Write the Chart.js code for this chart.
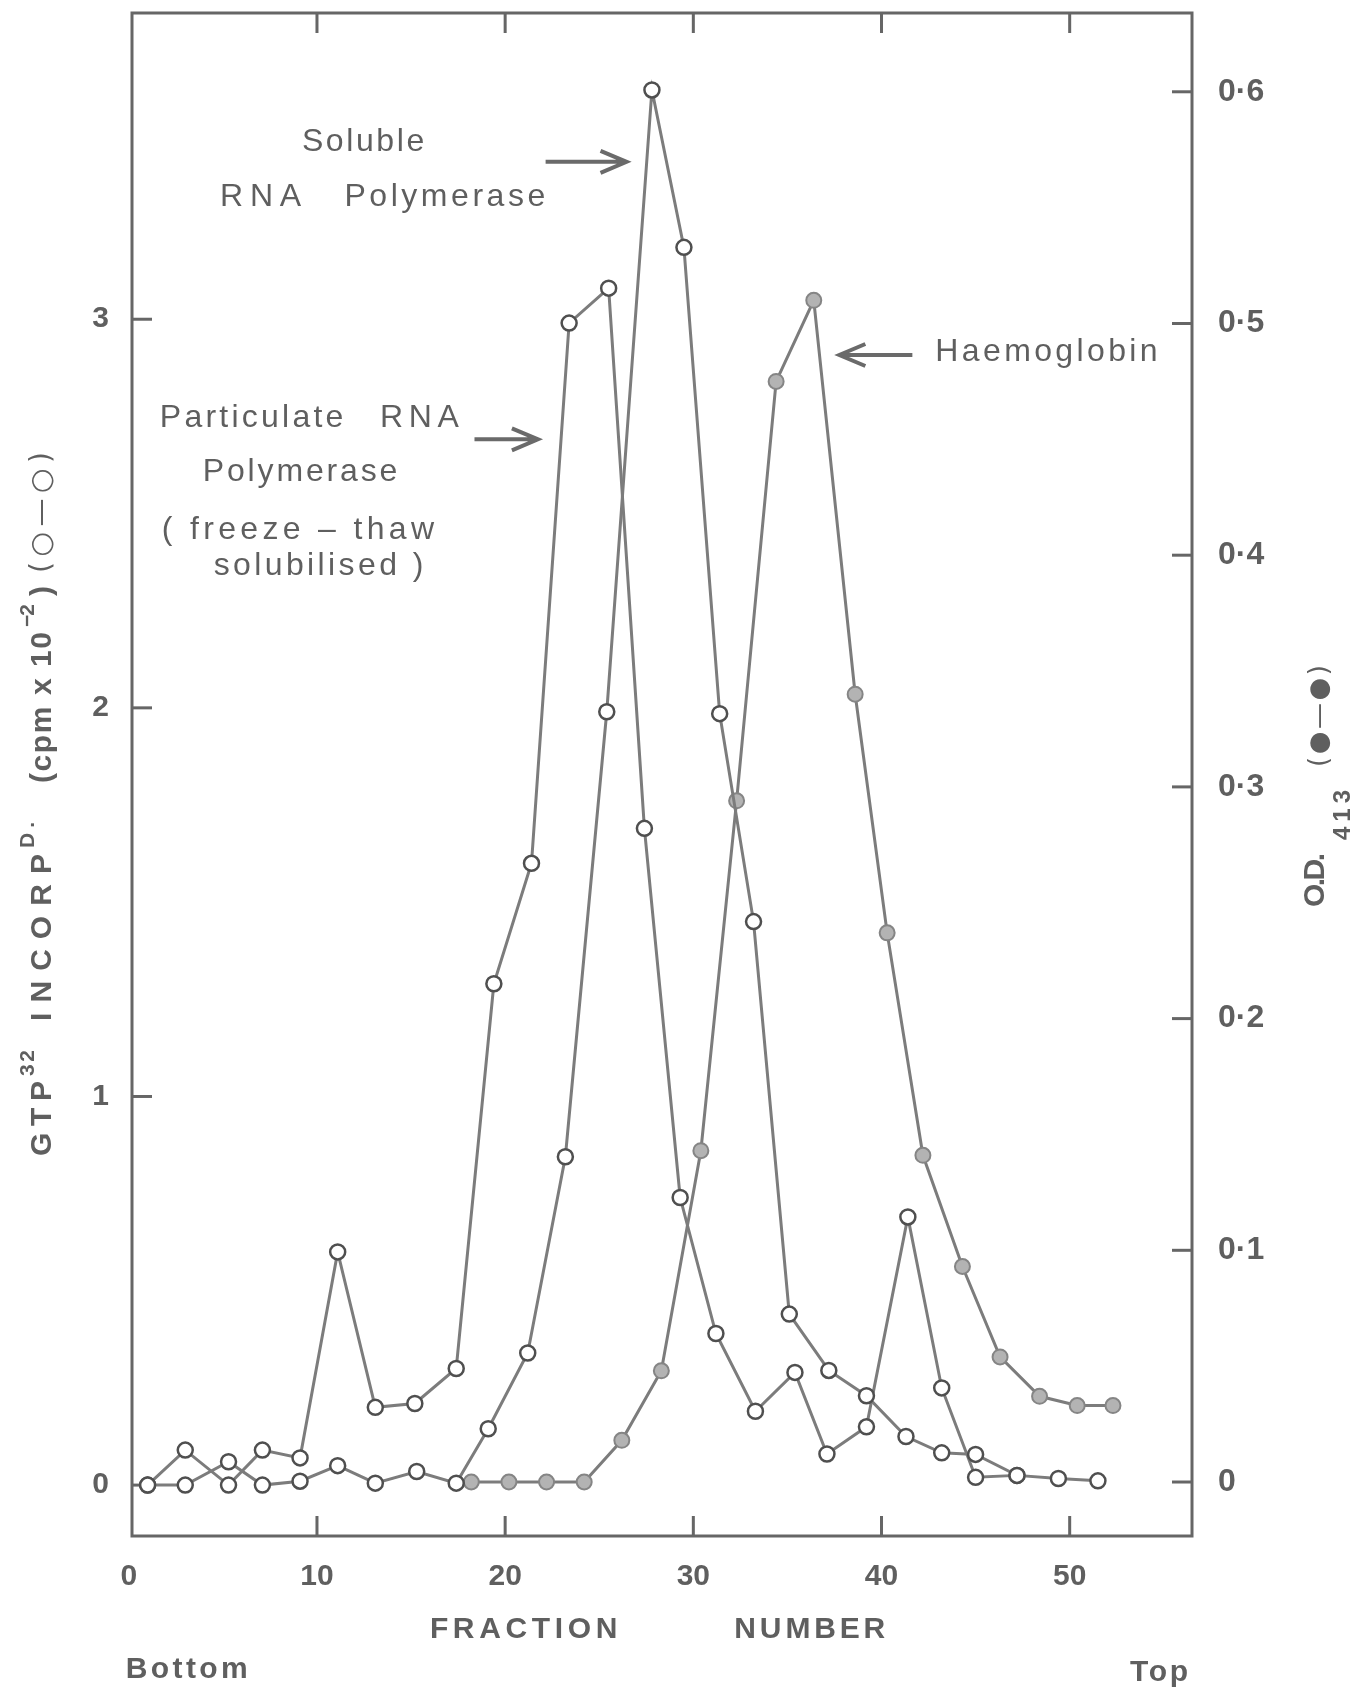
<!DOCTYPE html>
<html lang="en">
<head>
    <meta charset="UTF-8">
    <title>GTP32 incorporation and haemoglobin per fraction</title>
    <script src="https://cdn.jsdelivr.net/npm/chart.js"></script>
    <style>
        body {
            margin: 0;
            padding: 0;
            background-color: #ffffff;
        }
        canvas {
            display: block;
        }
    </style>
</head>
<body>

<canvas id="fractionChart" width="1367" height="1695"></canvas>

<script>
    // Particulate RNA polymerase (open circles, left axis, cpm x 10^-2)
    const particulateFraction = [1.0, 3.0, 5.3, 7.1, 9.1, 11.1, 13.1, 15.2, 17.4, 19.4, 21.4, 23.4, 25.5, 27.4,
        29.3, 31.2, 33.3, 35.4, 37.1, 39.2, 41.4, 43.2, 45.0, 47.2];
    const particulateCpm = [0, 0.09, 0, 0.09, 0.07, 0.60, 0.20, 0.21, 0.30, 1.29, 1.60, 2.99, 3.08, 1.69,
        0.74, 0.39, 0.19, 0.29, 0.08, 0.15, 0.69, 0.25, 0.02, 0.025];

    // Soluble RNA polymerase (open circles, left axis)
    const solubleFraction = [1.0, 3.0, 5.3, 7.1, 9.1, 11.1, 13.1, 15.3, 17.4, 19.1, 21.2, 23.2, 25.4, 27.8,
        29.5, 31.4, 33.2, 35.1, 37.2, 39.2, 41.3, 43.2, 45.0, 47.2, 49.4, 51.5];
    const solubleCpm = [0, 0, 0.06, 0, 0.01, 0.05, 0.005, 0.035, 0.005, 0.145, 0.34, 0.845, 1.99, 3.59,
        3.185, 1.985, 1.45, 0.44, 0.295, 0.23, 0.125, 0.083, 0.079, 0.025, 0.017, 0.011];

    // Haemoglobin (filled circles, right axis, O.D. 413)
    const haemFraction = [18.2, 20.2, 22.2, 24.2, 26.2, 28.3, 30.4, 32.3, 34.4, 36.4, 38.6, 40.3, 42.2, 44.3,
        46.3, 48.4, 50.4, 52.3];
    const haemOD = [0, 0, 0, 0, 0.018, 0.048, 0.143, 0.294, 0.475, 0.510, 0.340, 0.237, 0.141, 0.093,
        0.054, 0.037, 0.033, 0.033];

    // Axis ticks
    const fractionTicks = [0, 10, 20, 30, 40, 50];
    const cpmTicks = [0, 1, 2, 3];
    const odTicks = [0, 0.1, 0.2, 0.3, 0.4, 0.5, 0.6];

    const INK = '#5f5f5f';
    const LINE = '#7c7c7c';
    const FONT = '"Liberation Sans", Arial, sans-serif';

    // Text labels inside the plot, in data units (fraction, cpm)
    const notes = [
        { text: 'Soluble', x0: 9.2, x1: 15.7, y: 3.456 },
        { text: 'RNA', x0: 4.85, x1: 9.16, y: 3.314 },
        { text: 'Polymerase', x0: 11.46, x1: 22.13, y: 3.314 },
        { text: 'Particulate', x0: 1.65, x1: 11.4, y: 2.746 },
        { text: 'RNA', x0: 13.35, x1: 17.54, y: 2.746 },
        { text: 'Polymerase', x0: 3.93, x1: 14.27, y: 2.607 },
        { text: '( freeze – thaw', x0: 1.75, x1: 16.22, y: 2.458 },
        { text: 'solubilised )', x0: 4.51, x1: 15.65, y: 2.365 },
        { text: 'Haemoglobin', x0: 42.86, x1: 54.67, y: 2.916 }
    ];
    const arrows = [
        { from: 22.15, to: 26.45, y: 3.405 },
        { from: 18.37, to: 21.74, y: 2.691 },
        { from: 41.64, to: 37.76, y: 2.908 }
    ];

    // spread a string between two x positions using letter spacing
    function fitText(ctx, text, x0, x1, y, font) {
        ctx.font = font;
        ctx.letterSpacing = '0px';
        const w = ctx.measureText(text).width;
        const gap = (x1 - x0 - w) / Math.max(text.length - 1, 1);
        ctx.letterSpacing = gap + 'px';
        ctx.textAlign = 'left';
        ctx.textBaseline = 'middle';
        ctx.fillText(text, x0, y);
        ctx.letterSpacing = '0px';
    }

    // vertical text reading upwards, from screen y "from" to screen y "to"
    function fitUp(ctx, text, cx, from, to, font) {
        ctx.save();
        ctx.translate(cx, from);
        ctx.rotate(-Math.PI / 2);
        fitText(ctx, text, 0, from - to, 0, font);
        ctx.restore();
    }

    const decorations = {
        id: 'decorations',
        beforeDatasetsDraw(chart) {
            const { ctx, chartArea: a, scales } = chart;
            ctx.save();
            ctx.strokeStyle = '#666666';
            ctx.lineWidth = 3;
            ctx.strokeRect(a.left, a.top, a.right - a.left, a.bottom - a.top);

            // inward tick marks
            const len = 20;
            fractionTicks.forEach(v => {
                if (v === 0) return;
                const px = scales.x.getPixelForValue(v);
                ctx.beginPath();
                ctx.moveTo(px, a.bottom); ctx.lineTo(px, a.bottom - len);
                ctx.moveTo(px, a.top); ctx.lineTo(px, a.top + len);
                ctx.stroke();
            });
            cpmTicks.forEach(v => {
                const py = scales.y.getPixelForValue(v);
                ctx.beginPath();
                ctx.moveTo(a.left, py); ctx.lineTo(a.left + len, py);
                ctx.stroke();
            });
            odTicks.forEach(v => {
                const py = scales.y1.getPixelForValue(v);
                ctx.beginPath();
                ctx.moveTo(a.right, py); ctx.lineTo(a.right - len, py);
                ctx.stroke();
            });
            ctx.restore();
        },
        afterDraw(chart) {
            const { ctx, chartArea: a, scales } = chart;
            const sx = v => scales.x.getPixelForValue(v);
            const sy = v => scales.y.getPixelForValue(v);
            ctx.save();
            ctx.fillStyle = INK;

            notes.forEach(n => fitText(ctx, n.text, sx(n.x0), sx(n.x1), sy(n.y), '32px ' + FONT));

            ctx.strokeStyle = '#6a6a6a';
            ctx.lineWidth = 4;
            arrows.forEach(r => {
                const x0 = sx(r.from), x1 = sx(r.to), y = sy(r.y);
                const dir = Math.sign(x1 - x0);
                ctx.beginPath();
                ctx.moveTo(x0, y); ctx.lineTo(x1, y);
                ctx.moveTo(x1 - dir * 26, y - 11); ctx.lineTo(x1, y); ctx.lineTo(x1 - dir * 26, y + 11);
                ctx.stroke();
            });

            // axis names below the plot
            const b = a.bottom;
            fitText(ctx, 'FRACTION', sx(16.0), sx(25.97), b + 94, 'bold 30px ' + FONT);
            fitText(ctx, 'NUMBER', sx(32.18), sx(40.2), b + 94, 'bold 30px ' + FONT);
            fitText(ctx, 'Bottom', sx(-0.16), sx(6.32), b + 134, 'bold 30px ' + FONT);
            fitText(ctx, 'Top', sx(53.21), sx(56.29), b + 137, 'bold 30px ' + FONT);

            // left axis title (reads upwards)
            const lx = 43;
            fitUp(ctx, 'GTP', lx, 1156, 1081, 'bold 30px ' + FONT);
            fitUp(ctx, '32', lx - 15, 1076, 1050, 'bold 21px ' + FONT);
            fitUp(ctx, 'INCORP', lx, 1021, 854, 'bold 30px ' + FONT);
            fitUp(ctx, 'D.', lx - 15, 848, 822, 'bold 21px ' + FONT);
            fitUp(ctx, '(cpm x 10', lx, 783, 632, 'bold 30px ' + FONT);
            fitUp(ctx, '−2', lx - 15, 627, 604, 'bold 21px ' + FONT);
            fitUp(ctx, ')', lx, 596, 586, 'bold 30px ' + FONT);
            fitUp(ctx, '(○—○)', lx, 573, 452, '28px "DejaVu Sans", ' + FONT);

            // right axis title
            fitUp(ctx, 'O.D.', 1316, 907, 853, 'bold 30px ' + FONT);
            fitUp(ctx, '413', 1343, 840, 790, 'bold 24px ' + FONT);
            fitUp(ctx, '(●—●)', 1320, 767, 665, '26px "DejaVu Sans", ' + FONT);
            ctx.restore();
        }
    };

    function toPoints(xs, ys) {
        return xs.map((x, i) => ({ x: x, y: ys[i] }));
    }

    const openStyle = {
        showLine: true,
        borderColor: LINE,
        borderWidth: 3,
        tension: 0,
        pointRadius: 7.5,
        pointBorderWidth: 2.5,
        pointBorderColor: '#4f4f4f',
        pointBackgroundColor: '#ffffff'
    };

    const ctx = document.getElementById('fractionChart').getContext('2d');
    new Chart(ctx, {
        type: 'scatter',
        data: {
            datasets: [
                Object.assign({ label: 'Soluble RNA polymerase', data: toPoints(solubleFraction, solubleCpm), yAxisID: 'y' }, openStyle),
                Object.assign({ label: 'Particulate RNA polymerase', data: toPoints(particulateFraction, particulateCpm), yAxisID: 'y' }, openStyle),
                {
                    label: 'Haemoglobin',
                    data: toPoints(haemFraction, haemOD),
                    yAxisID: 'y1',
                    showLine: true,
                    borderColor: LINE,
                    borderWidth: 3,
                    tension: 0,
                    pointRadius: 7.5,
                    pointBorderWidth: 2,
                    pointBorderColor: '#858585',
                    pointBackgroundColor: '#b3b3b3'
                }
            ]
        },
        options: {
            responsive: false,
            animation: false,
            layout: { padding: { top: 13, left: 0, right: 0, bottom: 0 } },
            plugins: {
                legend: { display: false },
                tooltip: { enabled: false }
            },
            scales: {
                x: {
                    type: 'linear',
                    position: 'bottom',
                    min: 0.17,
                    max: 56.5,
                    grid: { display: false, drawTicks: false },
                    border: { display: false },
                    afterBuildTicks: s => { s.ticks = fractionTicks.map(v => ({ value: v })); },
                    afterFit: s => { s.height = 159; s.paddingLeft = 0; s.paddingRight = 0; },
                    ticks: {
                        autoSkip: false,
                        maxRotation: 0,
                        padding: 23,
                        color: INK,
                        font: { family: FONT, size: 30, weight: 'bold' }
                    }
                },
                y: {
                    type: 'linear',
                    position: 'left',
                    min: -0.131,
                    max: 3.788,
                    grid: { display: false, drawTicks: false },
                    border: { display: false },
                    afterBuildTicks: s => { s.ticks = cpmTicks.map(v => ({ value: v })); },
                    afterFit: s => { s.width = 132; s.paddingTop = 0; s.paddingBottom = 0; },
                    ticks: {
                        padding: 23,
                        color: INK,
                        font: { family: FONT, size: 30, weight: 'bold' }
                    }
                },
                y1: {
                    type: 'linear',
                    position: 'right',
                    min: -0.0233,
                    max: 0.634,
                    grid: { display: false, drawTicks: false },
                    border: { display: false },
                    afterBuildTicks: s => { s.ticks = odTicks.map(v => ({ value: v })); },
                    afterFit: s => { s.width = 175; s.paddingTop = 0; s.paddingBottom = 0; },
                    ticks: {
                        padding: 26,
                        color: INK,
                        font: { family: FONT, size: 32, weight: 'bold' },
                        callback: v => v === 0 ? '0' : v.toFixed(1).replace('.', '·')
                    }
                }
            }
        },
        plugins: [decorations]
    });
</script>

</body>
</html>
